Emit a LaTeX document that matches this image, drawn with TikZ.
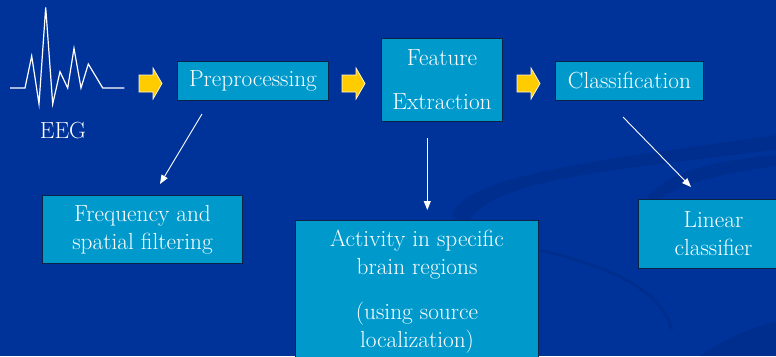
\documentclass[tikz,border=0pt]{standalone}
\usepackage{fontspec}
\setmainfont{Latin Modern Roman}
\usetikzlibrary{arrows.meta,calc}
\definecolor{bg}{RGB}{0,51,153}
\definecolor{bgdark}{RGB}{0,38,125}
\definecolor{boxfill}{RGB}{0,153,204}
\definecolor{boxline}{RGB}{10,35,70}
\definecolor{yel}{RGB}{255,204,0}
\definecolor{yeledge}{RGB}{255,245,210}
\begin{document}
\begin{tikzpicture}[x=1pt,y=-1pt,
  box/.style={draw=boxline, line width=1pt, fill=boxfill, text=white,
    font=\rmfamily\fontsize{23.3}{28}\selectfont, align=center, inner sep=0pt, anchor=north west},
  lbl/.style={text=white, font=\rmfamily\fontsize{23.3}{28}\selectfont, inner sep=0pt},
  yarrowstyle/.style={fill=yel, draw=yeledge, line width=0.8pt, line join=miter},
  thinarrow/.style={draw=white, line width=0.9pt, -{Triangle[length=9pt,width=7pt]}},
  swoosh/.style={fill=bgdark, opacity=0.38},
  wave/.style={draw=white, line width=1.2pt, line join=miter}]
\useasboundingbox (0,0) rectangle (776,356);
\fill[bg] (0,0) rectangle (776,356);
% background swooshes
\fill[swoosh] (452,215) .. controls (465,175) and (600,160) .. (776,135) -- (776,150) .. controls (610,170) and (480,180) .. (466,228) -- cycle;
\fill[swoosh] (647,197) .. controls (670,170) and (720,160) .. (776,155) -- (776,166) .. controls (730,172) and (680,182) .. (656,202) -- cycle;
\draw[bgdark, line width=3pt, opacity=0.38] (540,250) .. controls (600,265) and (660,285) .. (672,330);
\fill[swoosh] (700,356) .. controls (730,335) and (760,325) .. (776,322) -- (776,356) -- cycle;

% EEG waveform
\draw[wave] (10,88) -- (25,88) -- (31.7,56) -- (39,104) -- (45.7,7.3) -- (52.7,104) -- (60,71.7) -- (67.7,88) -- (74,48.3) -- (81,88) -- (88.3,64) -- (102.7,88) -- (124.3,88);
\node[lbl, anchor=base] (eeg) at (63,138) {EEG};

% main boxes
\node[box, minimum width=151pt, minimum height=39pt] (pre) at (177,61) {Preprocessing};
\node[box, minimum width=121pt, minimum height=83pt] (feat) at (381,38) {Feature\\[16pt]Extraction};
\node[box, minimum width=148pt, minimum height=39pt] (cls) at (555,61) {Classification};

% lower boxes
\node[box, minimum width=200pt, minimum height=68pt] (freq) at (42,195) {Frequency and\\spatial filtering};
\node[box, minimum width=243pt, minimum height=142pt] (act) at (295,220) {Activity in specific\\brain regions\\[17pt](using source\\localization)};
\node[box, minimum width=150pt, minimum height=69pt, text width=138pt] (lin) at (638,199) {Linear\\classifier};

% yellow block arrows
\coordinate (y1) at (139,83.5);
\coordinate (y2) at (342,83.5);
\coordinate (y3) at (517,83.5);
\foreach \c in {y1,y2,y3}{
  \draw[yarrowstyle] ($(\c)+(0,-8.5)$) -- ++(14,0) -- ++(0,-7) -- ++(9,15.5) -- ++(-9,15.5) -- ++(0,-7) -- ++(-14,0) -- cycle;
}

% thin arrows
\coordinate (a1s) at (202,114);
\coordinate (a1e) at (160,184);
\coordinate (a2s) at (427.3,138);
\coordinate (a2e) at (427.3,210);
\coordinate (a3s) at (623,117);
\coordinate (a3e) at (691,187);
\draw[thinarrow] (a1s) -- (a1e);
\draw[thinarrow] (a2s) -- (a2e);
\draw[thinarrow] (a3s) -- (a3e);
\end{tikzpicture}
\end{document}
